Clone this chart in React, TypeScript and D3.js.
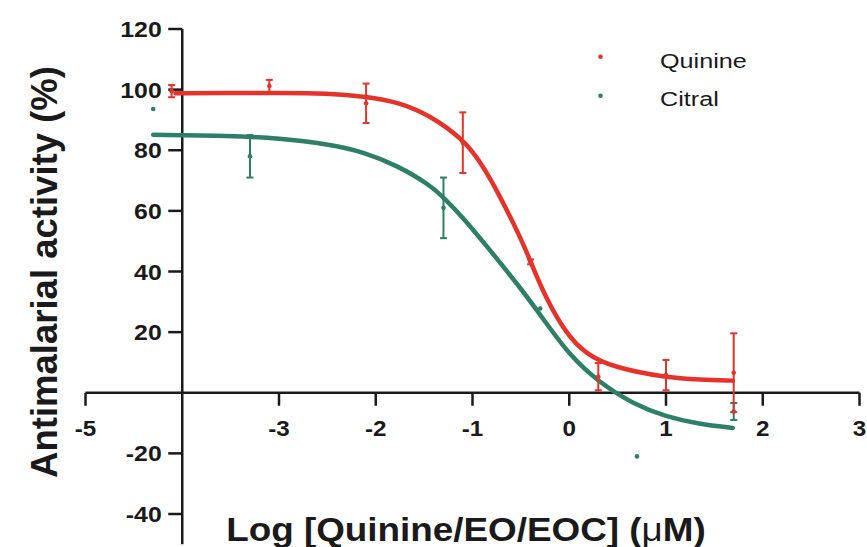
import React, { useEffect, useRef } from "react";
import * as d3 from "d3";

// measured points (mean ± SEM)
const quinineX = [-4.11, -3.1, -2.1, -1.1, -0.4, 0.3, 1.0, 1.7];
const quinineY = [99.5, 101.2, 95.5, 82.5, 43.2, 5.3, 5.8, 6.6];
const quinineErr = [2, 2, 6.5, 10, 0.8, 4.5, 5, 13];

const citralX = [-4.3, -3.3, -1.3, -0.3, 0.7, 1.7];
const citralY = [93.6, 78, 61, 27.8, -21, -6.2];
const citralErr = [0, 7, 10, 0, 0, 2.8];

// fitted curves, sampled from the figure
const quinineFitX = [-4.07, -3.5, -3, -2.5, -2.09, -1.78, -1.44, -1.09, -0.92, -0.75, -0.5, -0.41, -0.24, -0.03, 0.17, 0.45, 1.0, 1.35, 1.69];
const quinineFitY = [98.8, 98.9, 98.9, 98.8, 97.7, 96, 91.6, 83.4, 76.2, 67, 51, 44, 31, 19.4, 12.8, 8.4, 5.0, 4.3, 4.0];

const citralFitX = [-4.3, -3.5, -3.0, -2.48, -2.13, -1.78, -1.44, -1.28, -1.09, -0.89, -0.5, -0.25, 0, 0.3, 0.66, 1.0, 1.34, 1.69];
const citralFitY = [85.1, 84.8, 84.0, 82.0, 79.5, 75.0, 68.6, 63.8, 57.5, 49.8, 34.5, 23.5, 12.5, 3.6, -3.7, -7.9, -10.3, -11.6];

const xTicks = [-5, -3, -2, -1, 0, 1, 2, 3];
const yTicks = [120, 100, 80, 60, 40, 20, -20, -40];

const seriesNames = ["Quinine", "Citral"];
const seriesColors = ["#e5332a", "#2e7f68"];

const App = () => {
  const svgRef = useRef(null);
  const width = 867;
  const height = 547;
  const ink = "#1a1a1a";

  useEffect(() => {
    const svgEl = d3.select(svgRef.current);
    svgEl.selectAll("*").remove();

    const x = d3.scaleLinear().domain([-5, 3]).range([85.5, 859.5]);
    const y = d3.scaleLinear().domain([-40, 120]).range([514, 29]);
    const axisX = x(-4);

    // stretched text helper (the source font runs wide)
    const label = (g, tx, ty, str, size, weight, anchor, sx, rot = 0) => {
      const t = g
        .append("g")
        .attr("transform", `translate(${tx},${ty}) rotate(${rot}) scale(${sx},1)`)
        .append("text")
        .attr("text-anchor", anchor)
        .attr("font-family", "Arial, 'Liberation Sans', sans-serif")
        .attr("font-size", size)
        .attr("font-weight", weight)
        .attr("fill", ink);
      return t.text(str);
    };

    // axes
    const axes = svgEl.append("g").attr("class", "axes").attr("stroke", ink).attr("stroke-width", 2.5);
    axes.append("line").attr("x1", x(-5)).attr("x2", x(3)).attr("y1", y(0)).attr("y2", y(0));
    axes.append("line").attr("x1", axisX).attr("x2", axisX).attr("y1", y(120)).attr("y2", y(-50));
    axes
      .selectAll(".xt")
      .data(xTicks)
      .join("line")
      .attr("x1", (d) => x(d))
      .attr("x2", (d) => x(d))
      .attr("y1", y(0))
      .attr("y2", y(0) + 13);
    axes
      .selectAll(".yt")
      .data(yTicks)
      .join("line")
      .attr("x1", axisX - 14)
      .attr("x2", axisX)
      .attr("y1", (d) => y(d))
      .attr("y2", (d) => y(d));

    const labels = svgEl.append("g").attr("class", "labels");
    xTicks.forEach((d) => label(labels, x(d), 435.5, d, 22, "bold", "middle", 1.1));
    yTicks.forEach((d) => label(labels, axisX - 20.5, y(d) + 8, d, 22, "bold", "end", 1.13));

    const xt = label(labels, 466, 541, "", 33.5, "bold", "middle", 1.1);
    xt.append("tspan").text("Log [Quinine/EO/EOC] (");
    xt.append("tspan").attr("font-weight", "normal").text("\u03bc");
    xt.append("tspan").text("M)");
    label(labels, 57, 272, "Antimalarial activity (%)", 36.5, "bold", "middle", 1, -90);

    // curves
    const line = d3
      .line()
      .x((d) => x(d[0]))
      .y((d) => y(d[1]))
      .curve(d3.curveBasis);

    const fits = [
      d3.zip(quinineFitX, quinineFitY),
      d3.zip(citralFitX, citralFitY),
    ];
    const pts = [
      { xs: quinineX, ys: quinineY, es: quinineErr },
      { xs: citralX, ys: citralY, es: citralErr },
    ];

    // citral below quinine
    [1, 0].forEach((i) => {
      const color = seriesColors[i];
      const g = svgEl.append("g").attr("class", `series-${i}`);
      g.append("path")
        .attr("d", line(fits[i]))
        .attr("fill", "none")
        .attr("stroke", color)
        .attr("stroke-width", 4.5)
        .attr("stroke-linecap", "round");

      const data = d3.zip(pts[i].xs, pts[i].ys, pts[i].es);
      const bars = g.selectAll(".err").data(data.filter((d) => d[2] > 0)).join("g").attr("stroke", color).attr("stroke-width", 2);
      bars
        .append("line")
        .attr("x1", (d) => x(d[0]))
        .attr("x2", (d) => x(d[0]))
        .attr("y1", (d) => y(d[1] + d[2]))
        .attr("y2", (d) => y(d[1] - d[2]));
      [1, -1].forEach((s) =>
        bars
          .append("line")
          .attr("x1", (d) => x(d[0]) - 3.5)
          .attr("x2", (d) => x(d[0]) + 3.5)
          .attr("y1", (d) => y(d[1] + s * d[2]))
          .attr("y2", (d) => y(d[1] + s * d[2]))
      );
      g.selectAll("circle")
        .data(data)
        .join("circle")
        .attr("cx", (d) => x(d[0]))
        .attr("cy", (d) => y(d[1]))
        .attr("r", 2.3)
        .attr("fill", color);
    });

    // legend
    const legend = svgEl.append("g").attr("class", "legend");
    seriesNames.forEach((name, i) => {
      legend
        .append("circle")
        .attr("cx", 600.5)
        .attr("cy", 56.7 + i * 39)
        .attr("r", 2.3)
        .attr("fill", seriesColors[i]);
      label(legend, 660, 67.5 + i * 38, name, 21, "normal", "start", 1.2);
    });
  }, []);

  return (
    <svg
      ref={svgRef}
      width={width}
      height={height}
      style={{ position: "absolute", left: 0, top: 0, background: "#fff" }}
    />
  );
};

export default App;
